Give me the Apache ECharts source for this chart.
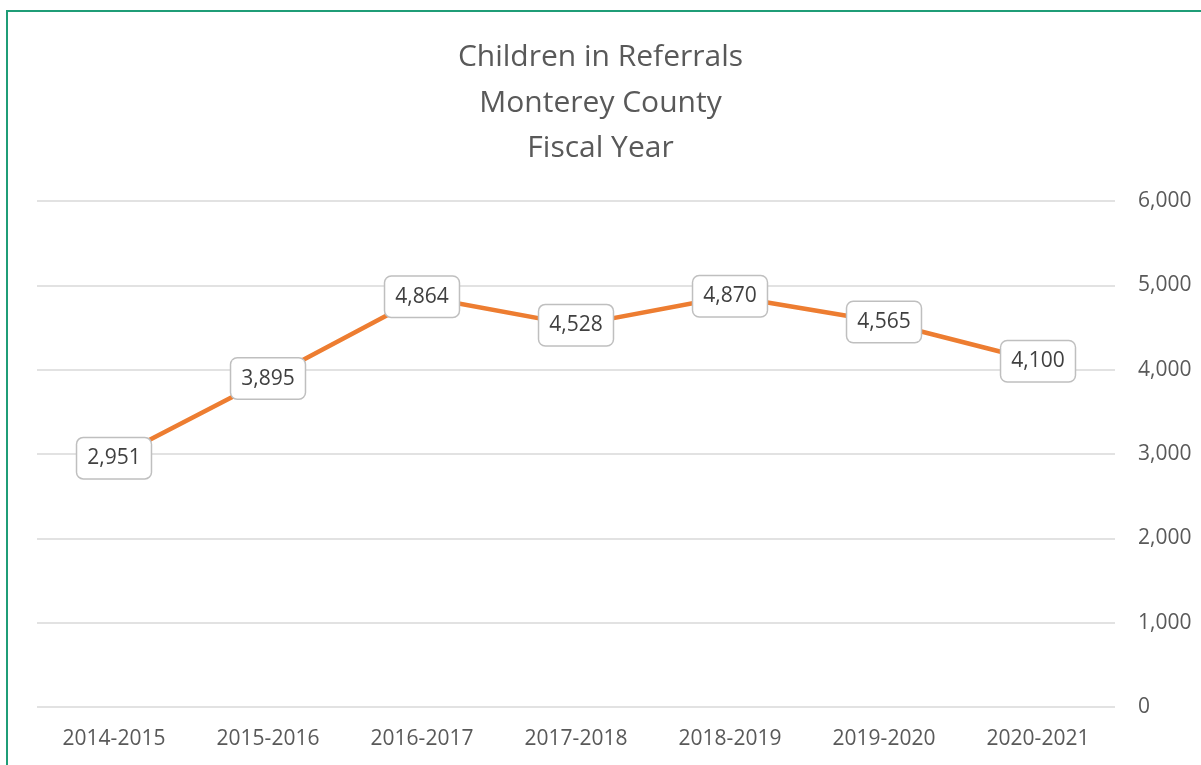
<!DOCTYPE html>
<html>
<head>
<meta charset="utf-8">
<script src="https://cdn.jsdelivr.net/npm/echarts@6/dist/echarts.min.js"></script>
<style>
html,body{margin:0;padding:0;background:#fff;}
#chart{width:1201px;height:765px;}
</style>
</head>
<body>
<div id="chart"></div>
<script>
const categories = ['2014-2015','2015-2016','2016-2017','2017-2018','2018-2019','2019-2020','2020-2021'];
const children = [2951, 3895, 4864, 4528, 4870, 4565, 4100];
const titleLines = ['Children in Referrals','Monterey County','Fiscal Year'];
const yTicks = {min: 0, max: 6000, interval: 1000};

const FONT = '"Open Sans", sans-serif';
const chart = echarts.init(document.getElementById('chart'));
chart.setOption({
  animation: false,
  backgroundColor: '#fff',
  graphic: [{
    type: 'rect', silent: true,
    shape: {x: 7, y: 11, width: 1250, height: 800},
    style: {fill: 'none', stroke: '#1f9d77', lineWidth: 2}
  }],
  title: {
    text: titleLines.join('\n'),
    left: 'center', top: 35, padding: 0,
    textStyle: {fontFamily: FONT, fontSize: 30, fontWeight: 'normal', color: '#595959', lineHeight: 45.5}
  },
  grid: {left: 37, right: 86, top: 201, bottom: 58, containLabel: false},
  xAxis: {
    type: 'category', data: categories, boundaryGap: true,
    axisLine: {show: false}, axisTick: {show: false},
    axisLabel: {fontFamily: FONT, fontSize: 21, color: '#595959', margin: 22}
  },
  yAxis: {
    type: 'value', position: 'right', min: yTicks.min, max: yTicks.max, interval: yTicks.interval,
    axisLine: {show: false}, axisTick: {show: false},
    splitLine: {lineStyle: {color: '#d9d9d9', width: 1.5}},
    axisLabel: {fontFamily: FONT, fontSize: 21, color: '#595959', margin: 23,
      formatter: v => v.toLocaleString('en-US')}
  },
  series: [{
    type: 'line', data: children,
    lineStyle: {color: '#ed7d31', width: 4.5},
    itemStyle: {color: 'rgba(0,0,0,0)', borderWidth: 0},
    symbol: 'circle', symbolSize: 2, showSymbol: true,
    label: {
      show: true, position: 'inside',
      formatter: p => p.value.toLocaleString('en-US'),
      fontFamily: FONT, fontSize: 21, color: '#404040',
      backgroundColor: '#fff', borderColor: '#bfbfbf', borderWidth: 1.5, borderRadius: 6,
      padding: [10, 10, 9, 10]
    }
  }]
});
</script>
</body>
</html>
